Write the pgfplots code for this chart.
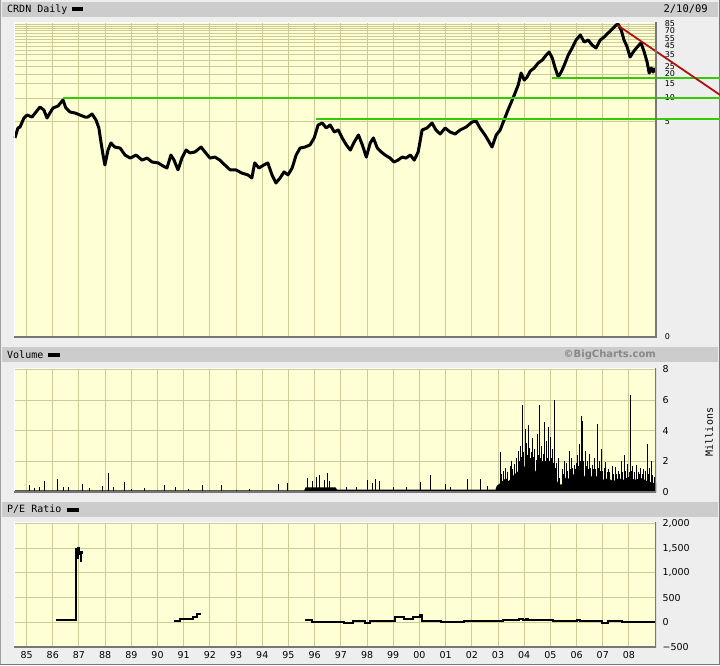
\documentclass[border=0pt]{standalone}
\usepackage{fontspec}
\setmainfont{DejaVu Sans}
\newfontfamily\monof{DejaVu Sans Mono}
\usepackage{pgfplots}
\pgfplotsset{compat=1.18}
\definecolor{bgc}{HTML}{EEEEEE}
\definecolor{hdr}{HTML}{CCCCCC}
\definecolor{plotbg}{HTML}{FFFFD5}
\definecolor{gridc}{HTML}{CCCC99}
\definecolor{grn}{HTML}{33CC00}
\definecolor{trd}{HTML}{B01010}
\definecolor{shd}{HTML}{777777}
\definecolor{bcg}{HTML}{888888}
\newcommand\tickf{\fontsize{9.5}{10}\selectfont}
\newcommand\ptickf{\fontsize{8}{8}\selectfont}
\pgfplotsset{
  bc/.style={
    scale only axis, width=642pt,
    xmin=1984.52, xmax=2009.03,
    axis background/.style={fill=plotbg},
    xtick={1985,...,2008},
    grid=major,
    major grid style={gridc, line width=1pt},
    minor grid style={gridc, line width=1pt},
    axis line style={draw=none},
    tick style={draw=none},
    major tick length=0pt, minor tick length=0pt,
    yticklabel pos=right,
    yticklabel style={font=\tickf, anchor=west, xshift=3pt},
    xticklabel style={font=\tickf},
  },
}
\newcommand\myboxframe{%
  \draw[white, line width=1pt] (rel axis cs:0,0) -- (rel axis cs:0,1) -- (rel axis cs:1,1);
  \draw[shd, line width=1.3pt] (rel axis cs:1,1) -- (rel axis cs:1,0) -- (rel axis cs:0,0);
}
\begin{document}
\begin{tikzpicture}[x=1pt,y=1pt]
\fill[bgc] (0,0) rectangle (720,-665);
\draw[shd, line width=1.5pt] (719.25,0) -- (719.25,-664.25) -- (0,-664.25);
\draw[bcg!80, line width=1.2pt] (0.6,0) -- (0.6,-664);
% header bars
\fill[hdr] (2,-2) rectangle (718,-17);
\fill[hdr] (2,-347) rectangle (718,-362);
\fill[hdr] (2,-502) rectangle (718,-517);
\node[anchor=west, inner sep=0pt, font=\monof\fontsize{10}{10}\selectfont] at (7,-9.5) {CRDN Daily};
\fill[black] (72,-7) rectangle (83,-10.5);
\node[anchor=east, inner sep=0pt, font=\monof\fontsize{10.5}{10}\selectfont] at (708,-9) {2/10/09};
\node[anchor=west, inner sep=0pt, font=\monof\fontsize{10}{10}\selectfont] at (7,-354.5) {Volume};
\fill[black] (48,-353) rectangle (59.5,-356.5);
\node[anchor=east, inner sep=0pt, text=bcg, font=\bfseries\fontsize{10}{10}\selectfont] at (656,-354.5) {©BigCharts.com};
\node[anchor=west, inner sep=0pt, font=\monof\fontsize{10}{10}\selectfont] at (7,-509.5) {P/E Ratio};
\fill[black] (67,-508) rectangle (78.5,-511.5);
\node[rotate=90, inner sep=0pt, font=\monof\fontsize{10}{10}\selectfont] at (709,-432) {Millions};

% ---------------- price panel ----------------
\begin{axis}[bc, at={(14pt,-22pt)}, anchor=north west, height=315pt,
  ymode=log, ymin=0.00994, ymax=90.1,
  ytick={0.00994,5,10,15,20,25,35,45,55,70,85},
  yticklabels={0,5,10,15,20,25,35,45,55,70,85},
  yticklabel style={font=\ptickf, inner sep=0.2pt, xshift=5.5pt},
  minor ytick={30,40,50,60,65,75,80},
  grid=both,
  xticklabels={},
  clip=false]
\addplot[black, line width=3pt, line join=round] coordinates {
(1984.557,3.15)(1984.67,4.2)(1984.75,4.32)(1984.90,5.61)(1985.02,6.11)(1985.21,5.77)(1985.36,6.67)(1985.51,7.71)(1985.66,7.07)(1985.78,5.61)(1985.89,6.48)(1986.01,7.49)(1986.20,7.93)(1986.39,9.44)(1986.50,7.49)(1986.66,6.67)(1986.85,6.48)(1987.04,6.11)(1987.23,5.77)(1987.34,5.77)(1987.50,6.30)(1987.65,5.29)(1987.76,4.20)(1987.84,2.80)(1987.92,1.92)(1987.99,1.44)(1988.11,2.22)(1988.22,2.72)(1988.37,2.42)(1988.57,2.35)(1988.76,1.92)(1988.95,1.76)(1989.18,1.92)(1989.41,1.66)(1989.60,1.76)(1989.79,1.57)(1990.02,1.53)(1990.21,1.40)(1990.36,1.32)(1990.51,1.92)(1990.63,1.66)(1990.78,1.25)(1990.93,1.76)(1991.09,2.22)(1991.24,2.04)(1991.43,2.10)(1991.66,2.42)(1991.81,2.10)(1992.00,1.76)(1992.19,1.81)(1992.38,1.66)(1992.57,1.44)(1992.77,1.25)(1992.99,1.25)(1993.22,1.14)(1993.45,1.08)(1993.60,0.99)(1993.71,1.53)(1993.87,1.32)(1994.06,1.44)(1994.21,1.53)(1994.37,1.08)(1994.52,0.855)(1994.68,0.99)(1994.83,1.18)(1994.98,1.08)(1995.14,1.32)(1995.29,1.92)(1995.44,2.35)(1995.63,2.42)(1995.82,2.57)(1995.98,3.15)(1996.13,4.58)(1996.29,4.85)(1996.44,4.20)(1996.59,4.58)(1996.75,3.74)(1996.90,3.96)(1997.05,3.15)(1997.21,2.57)(1997.36,2.22)(1997.51,2.80)(1997.67,3.43)(1997.82,2.57)(1997.97,1.81)(1998.12,2.72)(1998.24,3.15)(1998.39,2.35)(1998.54,2.10)(1998.69,1.92)(1998.88,1.76)(1999.03,1.57)(1999.18,1.66)(1999.34,1.81)(1999.49,1.76)(1999.65,1.92)(1999.80,1.66)(1999.95,2.10)(2000.10,3.96)(2000.29,4.20)(2000.48,4.85)(2000.63,3.96)(2000.79,3.53)(2000.98,4.20)(2001.17,3.74)(2001.36,3.53)(2001.55,3.96)(2001.78,4.32)(2002.01,4.99)(2002.16,5.14)(2002.31,4.20)(2002.50,3.43)(2002.66,2.80)(2002.77,2.42)(2002.93,3.43)(2003.08,3.96)(2003.23,5.29)(2003.38,7.07)(2003.54,9.44)(2003.65,11.56)(2003.77,14.57)(2003.88,20.6)(2004.00,16.8)(2004.11,18.36)(2004.23,21.8)(2004.38,23.8)(2004.53,27.5)(2004.69,30.0)(2004.84,34.7)(2004.95,37.8)(2005.07,31.8)(2005.18,23.8)(2005.30,18.36)(2005.41,21.2)(2005.53,26.0)(2005.68,34.7)(2005.83,42.5)(2005.98,53.5)(2006.14,61.9)(2006.29,50.5)(2006.44,53.5)(2006.59,46.3)(2006.74,42.5)(2006.90,53.5)(2007.05,58.4)(2007.20,65.5)(2007.36,73.6)(2007.51,82.6)(2007.58,85.0)(2007.70,71.5)(2007.81,53.5)(2007.93,43.7)(2008.04,32.7)(2008.16,37.8)(2008.31,43.7)(2008.46,49.1)(2008.58,37.8)(2008.69,28.3)(2008.77,20.6)(2008.85,23.8)(2008.92,21.2)(2008.99,23.8)
};
% support / resistance lines
\addplot[grn, line width=1.5pt] coordinates {(1986.39,10)(2011.48,10)};
\addplot[grn, line width=1.5pt] coordinates {(1996.05,5.45)(2011.48,5.45)};
\addplot[grn, line width=1.5pt] coordinates {(2005.06,17.8)(2011.48,17.8)};
\addplot[trd, line width=1.8pt] coordinates {(2007.55,82.6)(2011.48,10.9)};
\myboxframe
\end{axis}

% ---------------- volume panel ----------------
\begin{axis}[bc, at={(14pt,-368pt)}, anchor=north west, height=124pt,
  ymin=0, ymax=8.1, ytick={0,2,4,6,8}, yticklabels={0,2,4,6,8},
  xticklabels={}]
\addplot[fill=black, draw=none] coordinates {
(1984.52,0)(1984.52,0.1)(1995.6,0.1)(1995.65,0.3)(1996.8,0.3)(1996.85,0.15)(2002.9,0.15)(2002.95,0.4)(2003.1,0.6)(2003.3,0.9)(2003.4,0.7)(2003.6,1.1)(2003.8,1.4)(2003.9,1.0)(2004.0,1.7)(2004.1,1.2)(2004.2,1.6)(2004.35,1.1)(2004.5,1.6)(2004.6,1.1)(2004.75,1.5)(2004.9,1.2)(2005.05,1.4)(2005.2,1.0)(2005.3,0.5)(2005.45,0.5)(2005.6,1.0)(2005.75,0.8)(2005.9,1.2)(2006.05,0.9)(2006.2,1.3)(2006.35,0.9)(2006.5,1.2)(2006.65,0.8)(2006.8,1.1)(2007.0,0.8)(2007.2,0.9)(2007.4,0.7)(2007.6,0.9)(2007.8,0.8)(2008.0,1.0)(2008.2,0.8)(2008.5,0.9)(2008.7,0.7)(2008.9,0.6)(2009.03,0.6)(2009.03,0)
} \closedcycle;
\addplot[ycomb, black, line width=1pt, mark=none] coordinates {
(1984.55,1.09)(1985.13,0.44)(1985.3,0.25)(1985.5,0.3)(1985.70,0.70)(1986.18,0.83)(1986.4,0.35)(1986.6,0.3)(1987.14,0.50)(1987.4,0.25)(1987.9,0.4)(1988.11,1.24)(1988.3,0.3)(1988.72,0.65)(1989.0,0.2)(1989.5,0.25)(1990.28,0.44)(1990.7,0.3)(1991.2,0.2)(1991.70,0.44)(1992.46,0.44)(1993.0,0.15)(1993.5,0.2)(1994.60,0.54)(1994.98,0.59)
(1995.74,0.9)(1995.90,0.7)(1996.05,1.0)(1996.20,1.09)(1996.36,0.8)(1996.47,1.24)(1996.58,0.75)(1997.2,0.3)(1997.6,0.35)(1998.00,0.8)(1998.19,0.6)(1998.34,0.82)(1998.46,0.75)(1999.0,0.3)(1999.5,0.35)(2000.02,0.65)(2000.41,1.09)(2000.98,0.5)(2001.2,0.3)(2001.82,0.87)(2002.32,0.87)(2002.6,0.4)
(2003.08,2.6)(2003.15,1.2)(2003.22,1.4)(2003.27,1.6)(2003.35,1.3)(2003.46,1.7)(2003.5,2.0)(2003.56,1.5)(2003.62,1.8)(2003.7,2.2)(2003.77,2.7)(2003.81,2.0)(2003.85,3.0)(2003.89,2.3)(2003.93,5.67)(2003.97,2.6)(2004.03,4.1)(2004.07,3.2)(2004.11,2.4)(2004.15,4.36)(2004.2,2.9)(2004.25,2.2)(2004.28,2.6)(2004.32,3.5)(2004.36,2.3)(2004.41,2.8)(2004.46,2.1)(2004.5,3.8)(2004.54,2.4)(2004.58,5.67)(2004.62,2.2)(2004.65,3.0)(2004.69,2.0)(2004.72,2.5)(2004.76,2.2)(2004.79,4.57)(2004.82,2.0)(2004.85,3.3)(2004.89,2.2)(2004.93,4.25)(2004.97,2.0)(2005.02,3.6)(2005.05,2.2)(2005.08,2.8)(2005.12,1.9)(2005.16,6.03)(2005.2,1.6)(2005.24,1.9)(2005.29,2.2)(2005.36,0.9)(2005.45,1.5)(2005.5,1.2)(2005.55,2.0)(2005.62,1.9)(2005.66,1.4)(2005.71,2.7)(2005.76,1.5)(2005.8,2.2)(2005.85,1.6)(2005.90,1.74)(2005.95,1.5)(2006.0,1.9)(2006.05,2.4)(2006.08,1.7)(2006.11,3.16)(2006.14,2.0)(2006.17,4.95)(2006.21,4.64)(2006.25,2.0)(2006.28,1.6)(2006.32,2.7)(2006.36,1.7)(2006.4,2.0)(2006.45,1.5)(2006.5,2.5)(2006.54,1.6)(2006.59,1.74)(2006.63,1.5)(2006.68,2.2)(2006.72,1.5)(2006.78,4.47)(2006.82,1.6)(2006.87,2.0)(2006.91,1.4)(2006.95,2.83)(2007.0,1.4)(2007.05,1.6)(2007.12,1.96)(2007.16,1.3)(2007.2,1.5)(2007.27,1.3)(2007.35,1.7)(2007.41,1.2)(2007.47,1.63)(2007.53,1.2)(2007.6,1.4)(2007.65,1.2)(2007.7,2.0)(2007.75,1.3)(2007.81,2.4)(2007.87,1.4)(2007.95,1.8)(2008.0,1.3)(2008.04,6.32)(2008.09,1.4)(2008.15,1.7)(2008.21,1.3)(2008.27,1.74)(2008.35,1.3)(2008.4,1.2)(2008.45,1.6)(2008.5,1.2)(2008.54,1.5)(2008.62,1.4)(2008.69,3.16)(2008.74,1.2)(2008.8,1.6)(2008.85,2.0)(2008.9,1.1)(2008.97,0.98)
};
\myboxframe
\end{axis}

% ---------------- P/E panel ----------------
\begin{axis}[bc, at={(14pt,-522pt)}, anchor=north west, height=125pt,
  ymin=-500, ymax=2030, ytick={-500,0,500,1000,1500,2000},
  yticklabels={−500,0,500,{1,000},{1,500},{2,000}},
  xticklabels={85,86,87,88,89,90,91,92,93,94,95,96,97,98,99,00,01,02,03,04,05,06,07,08},
  xticklabel style={yshift=-0.5pt}]
\addplot[black, line width=2pt, const plot] coordinates {
(1986.12,45)(1986.3,38)(1986.5,50)(1986.7,40)(1986.86,40)(1986.875,735)(1986.9,1480)(1986.93,1450)(1986.95,1300)(1986.97,1500)(1987.0,1380)(1987.03,1420)(1987.06,1250)(1987.08,1430)(1987.1,1400)(1987.14,1400)
};
\addplot[black, line width=2pt, const plot] coordinates {
(1990.645,20)(1990.855,75)(1991.17,60)(1991.35,110)(1991.49,165)(1991.645,165)
};
\addplot[black, line width=2pt, const plot] coordinates {
(1995.64,40)(1995.90,15)(1997.13,-15)(1997.48,20)(1997.92,-15)(1998.10,20)(1999.06,100)(1999.41,75)(1999.76,100)(2000.02,143)(2000.08,30)(2000.81,7)(2001.69,20)(2003.18,40)(2003.79,65)(2003.95,45)(2004.05,70)(2004.14,40)(2005.11,20)(2006.0,48)(2006.11,20)(2006.95,-7)(2007.21,20)(2007.74,0)(2008.98,0)
};
\myboxframe
\end{axis}
\pgfresetboundingbox
\useasboundingbox (0,0) rectangle (720,-665);
\end{tikzpicture}
\end{document}
